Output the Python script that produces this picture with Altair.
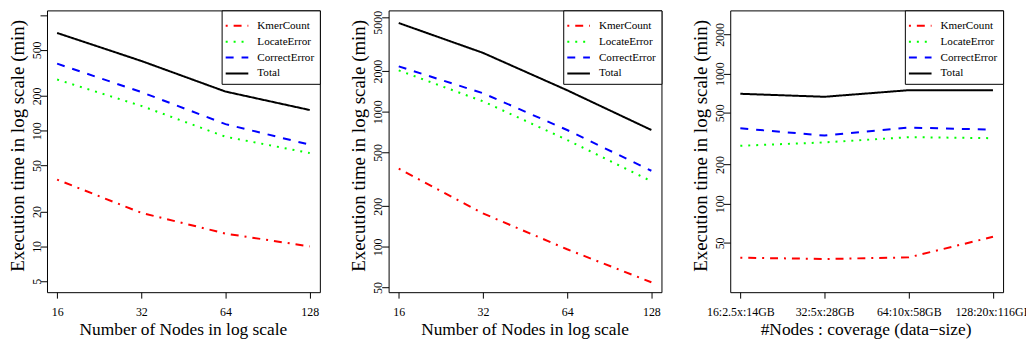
import altair as alt
import pandas as pd

SERIF = "Liberation Serif"

series = ["KmerCount", "LocateError", "CorrectError", "Total"]
series_colors = ["#FF0000", "#00FF00", "#0000FF", "#000000"]
series_dashes = [[2, 6, 8, 6], [2, 6], [8, 8], [1, 0]]

nodes = [16, 32, 64, 128]
configs = ["16:2.5x:14GB", "32:5x:28GB", "64:10x:58GB", "128:20x:116GB"]

p1_kmer = [37.8, 19.5, 12.9, 10.0]
p1_locate = [277, 164, 88.7, 64.2]
p1_correct = [380, 216, 114, 75.7]
p1_total = [700, 401, 218, 151]

p2_kmer = [379, 177, 96, 54.7]
p2_locate = [2025, 1195, 619, 306]
p2_correct = [2167, 1372, 733, 366]
p2_total = [4540, 2730, 1443, 733]

p3_kmer = [38.5, 37.6, 38.7, 55.7]
p3_locate = [279, 296, 325, 319]
p3_correct = [380, 334, 385, 371]
p3_total = [700, 664, 746, 746]

p1_yticks = [5, 10, 20, 50, 100, 200, 500, 1000]
p2_yticks = [50, 100, 200, 500, 1000, 2000, 5000]
p3_yticks = [50, 100, 200, 500, 1000, 2000]

p1_ydomain = [4.02, 1097]
p2_ydomain = [46.2, 5629]
p3_ydomain = [20.9, 3063]
log_xdomain = [14.72, 139.1]

W, H = 275, 284
YTITLE = "Execution time in log scale (min)"

LEGEND_KW = dict(
    orient="top-right", offset=0, padding=5,
    strokeColor="black", fillColor="white", cornerRadius=0,
    symbolType="M-1.2,0H1.2", symbolSize=361, symbolStrokeWidth=2,
    labelFont=SERIF, labelFontSize=11.2, labelColor="black",
    labelOffset=10, rowPadding=0,
)


def frame(xname, xs, cols):
    rows = []
    for name, vals in zip(series, cols):
        for i, (x, v) in enumerate(zip(xs, vals)):
            rows.append({xname: x, "time": v, "series": name, "order": i})
    return pd.DataFrame(rows)


def legend():
    return alt.Legend(title=None, **LEGEND_KW)


def panel(df, xenc, ydomain, yticks, label_expr=None, top_label=None):
    yaxis_kw = dict(
        values=yticks, format="d", title=YTITLE, labelAngle=270,
        labelAlign="center", labelBaseline="alphabetic", labelPadding=0,
        tickSize=7, labelFontSize=12, labelOverlap=False,
        labelFont=SERIF, titleFont=SERIF, titleFontWeight="normal",
        labelColor="black", titleColor="black", tickColor="black",
        domain=False, grid=False,
        titleFontSize=19, titleAngle=270, titleAlign="center",
        titleBaseline="alphabetic", titleX=-24, titleY=136,
    )
    if label_expr:
        yaxis_kw["labelExpr"] = label_expr
    if top_label is not None:
        yaxis_kw["labelOffset"] = alt.ConditionalAxisNumber(
            condition={"test": f"datum.value == {top_label}", "value": 5}, value=0)
    y = alt.Y("time:Q",
              scale=alt.Scale(type="log", domain=ydomain, nice=False, zero=False),
              axis=alt.Axis(**yaxis_kw))
    return alt.Chart(df).mark_line(strokeWidth=2, clip=True).encode(
        x=xenc,
        y=y,
        order="order:Q",
        color=alt.Color("series:N", scale=alt.Scale(domain=series, range=series_colors), legend=legend()),
        strokeDash=alt.StrokeDash("series:N", scale=alt.Scale(domain=series, range=series_dashes), legend=legend()),
    ).properties(width=W, height=H)


def xaxis_kw(title, title_x):
    return dict(
        title=title, labelAngle=0, labelFontSize=12, labelBaseline="alphabetic",
        labelPadding=18, tickSize=6, labelFlush=False, labelOverlap=False,
        labelFont=SERIF, titleFont=SERIF, titleFontWeight="normal",
        labelColor="black", titleColor="black", tickColor="black",
        domain=False, grid=False,
        titleFontSize=17.5, titleAlign="center", titleBaseline="alphabetic",
        titleX=title_x, titleY=43,
    )


x_log = alt.X("nodes:Q",
              scale=alt.Scale(type="log", base=2, domain=log_xdomain, nice=False, zero=False),
              axis=alt.Axis(values=nodes, format="d", **xaxis_kw("Number of Nodes in log scale", 137)))

df1 = frame("nodes", nodes, [p1_kmer, p1_locate, p1_correct, p1_total])
df2 = frame("nodes", nodes, [p2_kmer, p2_locate, p2_correct, p2_total])
df3 = frame("cfg", configs, [p3_kmer, p3_locate, p3_correct, p3_total])

x_cfg = alt.X("cfg:O", sort=configs,
              scale=alt.Scale(type="point", padding=0.12),
              axis=alt.Axis(**xaxis_kw("#Nodes : coverage (data\u2212size)", 136.4)))

c1 = panel(df1, x_log, p1_ydomain, p1_yticks, "datum.value == 1000 ? '' : datum.label")
c2 = panel(df2, x_log, p2_ydomain, p2_yticks, top_label=5000)
c3 = panel(df3, x_cfg, p3_ydomain, p3_yticks)

chart = alt.hconcat(c1, c2, c3, spacing=69.3, bounds="flush").resolve_scale(
    color="independent", strokeDash="independent", x="independent", y="independent"
).resolve_legend(
    color="independent", strokeDash="independent"
).properties(
    autosize=alt.AutoSizeParams(type="none"),
    padding={"left": 39.3, "top": 0, "right": 986.7, "bottom": 331},
    background="white",
).configure(
    view=alt.ViewConfig(stroke="black", strokeWidth=1),
    legend=alt.LegendConfig(**LEGEND_KW),
    style={"guide-label": {"font": SERIF, "fill": "black"},
           "guide-title": {"font": SERIF, "fill": "black", "fontWeight": "normal"}},
)

chart.save("out.html", embed_options={"renderer": "svg", "actions": False})
